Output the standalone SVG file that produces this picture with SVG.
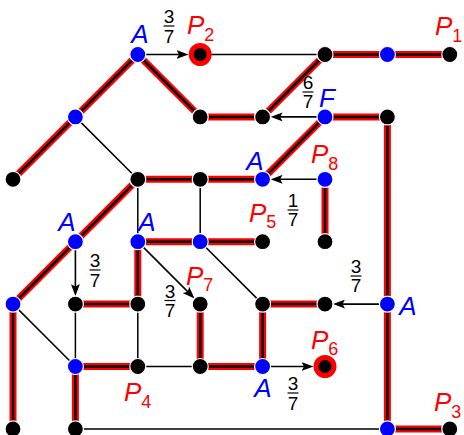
<svg xmlns="http://www.w3.org/2000/svg" xmlns:xlink="http://www.w3.org/1999/xlink" width="464" height="435" viewBox="0 0 464 435">
<style>
.red{fill:none;stroke:#ff0000;stroke-width:7;stroke-linecap:butt;stroke-linejoin:round}
.blk{fill:none;stroke:#000;stroke-width:2.5;stroke-linecap:butt;stroke-linejoin:round}
.thin{fill:none;stroke:#000;stroke-width:1.5}
.arr{fill:none;stroke:#000;stroke-width:1.6;marker-end:url(#ah)}
.bn{fill:#0000ff;stroke:#fff;stroke-width:1.2}
.kn{fill:#000;stroke:#fff;stroke-width:1.2}
.rn{fill:#000;stroke:#ff0000;stroke-width:5}
.la{font-family:"Liberation Sans",Arial,sans-serif;font-style:italic;font-size:26px;fill:#0000ff;text-anchor:middle}
.lp{font-family:"Liberation Sans",Arial,sans-serif;font-style:italic;font-size:26px;fill:#ff0000}
.sub{font-style:normal;font-size:18px}
.fr{font-family:"Liberation Sans",Arial,sans-serif;font-size:19px;fill:#000;text-anchor:middle}
.bar{stroke:#000;stroke-width:1.2}
</style>
<defs>
<marker id="ah" markerUnits="userSpaceOnUse" viewBox="0 0 12 9" refX="8" refY="4.5" markerWidth="12" markerHeight="9" orient="auto">
<path d="M0,0 L12,4.5 L0,9 L2.5,4.5 z" fill="#000"/>
</marker>
<path id="hl" d="M325,54.5 H449.8 M137.8,54.5 L13,179.3 M137.8,54.5 L200.2,116.9 H262.6 L325,54.5 M325,116.9 H387.4 V428.9 H449.8 M137.8,179.3 H262.6 L325,116.9 M325,179.3 V241.7 M137.8,179.3 L13,304.1 V428.9 M137.8,241.7 H262.6 M137.8,241.7 V304.1 H75.4 M75.4,366.5 H137.8 M75.4,366.5 V428.9 M200.2,304.1 V366.5 H262.6 V304.1 H325"/>
</defs>
<rect width="464" height="435" fill="#fff"/>
<g id="connectors">
<use xlink:href="#hl" href="#hl" class="red"/>
<use xlink:href="#hl" href="#hl" class="blk"/>
<path class="thin" d="M200.2,54.5 H325 M75.4,116.9 L137.8,179.3 M137.8,179.3 V241.7 M200.2,179.3 V241.7 M200.2,241.7 L262.6,304.1 M75.4,304.1 V366.5 M137.8,304.1 V366.5 M13,304.1 L75.4,366.5 M137.8,366.5 H200.2 M75.4,428.9 H387.4"/>
<line class="arr" x1="145.8" y1="54.5" x2="184.5" y2="54.5"/>
<line class="arr" x1="317" y1="116.9" x2="274.6" y2="116.9"/>
<line class="arr" x1="317" y1="179.3" x2="274.6" y2="179.3"/>
<line class="arr" x1="75.4" y1="249.7" x2="75.4" y2="292.1"/>
<line class="arr" x1="143.5" y1="247.4" x2="191.67" y2="295.57"/>
<line class="arr" x1="379.4" y1="304.1" x2="337" y2="304.1"/>
<line class="arr" x1="270.6" y1="366.5" x2="309.5" y2="366.5"/>
<g id="frac1"><text class="fr" x="169" y="23">3</text><line class="bar" x1="163.5" y1="26" x2="174.5" y2="26"/><text class="fr" x="169" y="42.5">7</text></g>
<g id="frac2"><text class="fr" x="308" y="89">6</text><line class="bar" x1="302.5" y1="92" x2="313.5" y2="92"/><text class="fr" x="308" y="108">7</text></g>
<g id="frac3"><text class="fr" x="293" y="207">1</text><line class="bar" x1="287.5" y1="210" x2="298.5" y2="210"/><text class="fr" x="293" y="226">7</text></g>
<g id="frac4"><text class="fr" x="95" y="267">3</text><line class="bar" x1="89.5" y1="270" x2="100.5" y2="270"/><text class="fr" x="95" y="287">7</text></g>
<g id="frac5"><text class="fr" x="170" y="297.5">3</text><line class="bar" x1="164.5" y1="300.5" x2="175.5" y2="300.5"/><text class="fr" x="170" y="317">7</text></g>
<g id="frac6"><text class="fr" x="356" y="273">3</text><line class="bar" x1="350.5" y1="276" x2="361.5" y2="276"/><text class="fr" x="356" y="292">7</text></g>
<g id="frac7"><text class="fr" x="293" y="390">3</text><line class="bar" x1="287.5" y1="393" x2="298.5" y2="393"/><text class="fr" x="293" y="410">7</text></g>
</g>
<g id="nodes">
<g id="n_2_0"><circle class="bn" cx="137.8" cy="54.5" r="8"/><text class="la" x="140" y="43">A</text></g>
<g id="n_3_0"><circle class="rn" cx="200.2" cy="54.5" r="9"/><text class="lp" x="187" y="34">P<tspan class="sub" dy="7">2</tspan></text></g>
<g id="n_5_0"><circle class="kn" cx="325" cy="54.5" r="8"/></g>
<g id="n_6_0"><circle class="bn" cx="387.4" cy="54.5" r="8"/></g>
<g id="n_7_0"><circle class="kn" cx="449.8" cy="54.5" r="8"/><text class="lp" x="435" y="35">P<tspan class="sub" dy="7">1</tspan></text></g>
<g id="n_1_1"><circle class="bn" cx="75.4" cy="116.9" r="8"/></g>
<g id="n_3_1"><circle class="kn" cx="200.2" cy="116.9" r="8"/></g>
<g id="n_4_1"><circle class="kn" cx="262.6" cy="116.9" r="8"/></g>
<g id="n_5_1"><circle class="bn" cx="325" cy="116.9" r="8"/><text class="la" x="327" y="107">F</text></g>
<g id="n_6_1"><circle class="kn" cx="387.4" cy="116.9" r="8"/></g>
<g id="n_0_2"><circle class="kn" cx="13" cy="179.3" r="8"/></g>
<g id="n_2_2"><circle class="kn" cx="137.8" cy="179.3" r="8"/></g>
<g id="n_3_2"><circle class="kn" cx="200.2" cy="179.3" r="8"/></g>
<g id="n_4_2"><circle class="bn" cx="262.6" cy="179.3" r="8"/><text class="la" x="255" y="170">A</text></g>
<g id="n_5_2"><circle class="bn" cx="325" cy="179.3" r="8"/><text class="lp" x="311" y="163">P<tspan class="sub" dy="7">8</tspan></text></g>
<g id="n_1_3"><circle class="bn" cx="75.4" cy="241.7" r="8"/><text class="la" x="67" y="231">A</text></g>
<g id="n_2_3"><circle class="bn" cx="137.8" cy="241.7" r="8"/><text class="la" x="147" y="231">A</text></g>
<g id="n_3_3"><circle class="bn" cx="200.2" cy="241.7" r="8"/></g>
<g id="n_4_3"><circle class="kn" cx="262.6" cy="241.7" r="8"/><text class="lp" x="249" y="222">P<tspan class="sub" dy="6">5</tspan></text></g>
<g id="n_5_3"><circle class="kn" cx="325" cy="241.7" r="8"/></g>
<g id="n_0_4"><circle class="bn" cx="13" cy="304.1" r="8"/></g>
<g id="n_1_4"><circle class="kn" cx="75.4" cy="304.1" r="8"/></g>
<g id="n_2_4"><circle class="kn" cx="137.8" cy="304.1" r="8"/></g>
<g id="n_3_4"><circle class="kn" cx="200.2" cy="304.1" r="8"/><text class="lp" x="186" y="285">P<tspan class="sub" dy="6">7</tspan></text></g>
<g id="n_4_4"><circle class="kn" cx="262.6" cy="304.1" r="8"/></g>
<g id="n_5_4"><circle class="kn" cx="325" cy="304.1" r="8"/></g>
<g id="n_6_4"><circle class="bn" cx="387.4" cy="304.1" r="8"/><text class="la" x="408" y="315">A</text></g>
<g id="n_1_5"><circle class="bn" cx="75.4" cy="366.5" r="8"/></g>
<g id="n_2_5"><circle class="kn" cx="137.8" cy="366.5" r="8"/><text class="lp" x="124" y="401">P<tspan class="sub" dy="7">4</tspan></text></g>
<g id="n_3_5"><circle class="kn" cx="200.2" cy="366.5" r="8"/></g>
<g id="n_4_5"><circle class="bn" cx="262.6" cy="366.5" r="8"/><text class="la" x="263" y="397">A</text></g>
<g id="n_5_5"><circle class="rn" cx="325" cy="366.5" r="9"/><text class="lp" x="311" y="349">P<tspan class="sub" dy="6">6</tspan></text></g>
<g id="n_0_6"><circle class="kn" cx="13" cy="428.9" r="8"/></g>
<g id="n_1_6"><circle class="kn" cx="75.4" cy="428.9" r="8"/></g>
<g id="n_6_6"><circle class="bn" cx="387.4" cy="428.9" r="8"/></g>
<g id="n_7_6"><circle class="kn" cx="449.8" cy="428.9" r="8"/><text class="lp" x="434" y="411">P<tspan class="sub" dy="7">3</tspan></text></g>
</g>
</svg>
